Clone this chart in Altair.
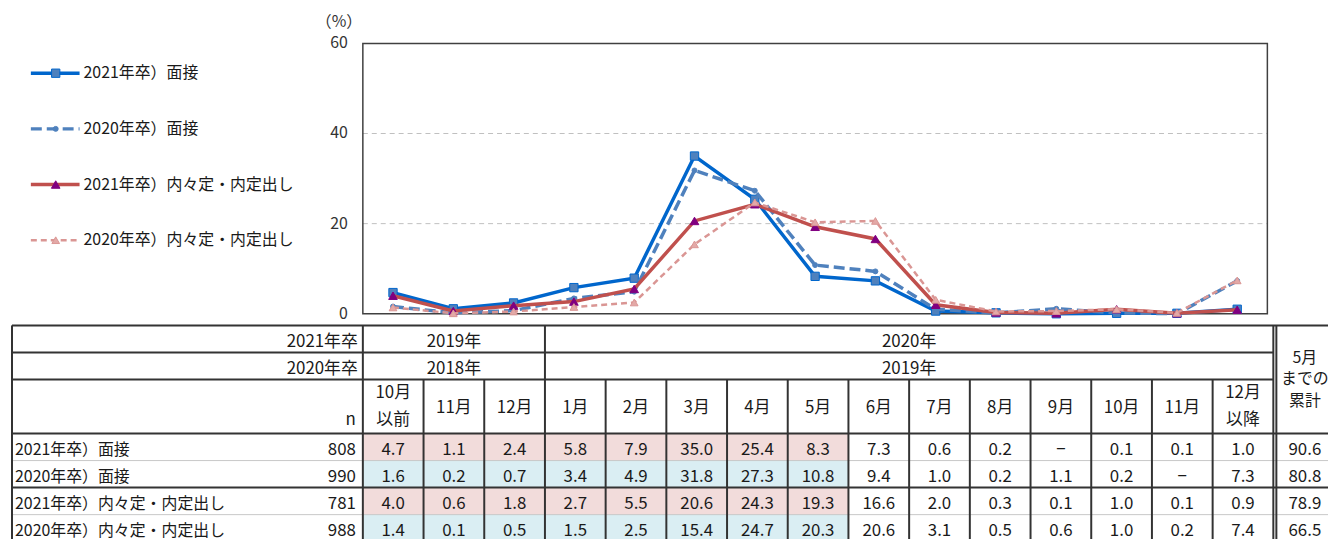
import altair as alt
import pandas as pd

FONT = "Noto Sans CJK JP"
TXT = "#1a1a1a"

# ---------------- data ----------------
series_names = [
    "2021年卒）面接",
    "2020年卒）面接",
    "2021年卒）内々定・内定出し",
    "2020年卒）内々定・内定出し",
]
cohorts = ["2021", "2020", "2021", "2020"]
n_counts = [808, 990, 781, 988]
cumulative_to_may = [90.6, 80.8, 78.9, 66.5]
month_labels = ["10月\n以前", "11月", "12月", "1月", "2月", "3月", "4月", "5月",
                "6月", "7月", "8月", "9月", "10月", "11月", "12月\n以降"]
vals_2021_interview = [4.7, 1.1, 2.4, 5.8, 7.9, 35.0, 25.4, 8.3, 7.3, 0.6, 0.2, None, 0.1, 0.1, 1.0]
vals_2020_interview = [1.6, 0.2, 0.7, 3.4, 4.9, 31.8, 27.3, 10.8, 9.4, 1.0, 0.2, 1.1, 0.2, None, 7.3]
vals_2021_offer = [4.0, 0.6, 1.8, 2.7, 5.5, 20.6, 24.3, 19.3, 16.6, 2.0, 0.3, 0.1, 1.0, 0.1, 0.9]
vals_2020_offer = [1.4, 0.1, 0.5, 1.5, 2.5, 15.4, 24.7, 20.3, 20.6, 3.1, 0.5, 0.6, 1.0, 0.2, 7.4]
all_values = [vals_2021_interview, vals_2020_interview, vals_2021_offer, vals_2020_offer]
y_ticks = [0, 20, 40, 60]
grad_labels = ["2021年卒", "2020年卒"]
year_first = ["2019年", "2018年"]     # 10月以前 .. 12月
year_second = ["2020年", "2019年"]    # 1月 .. 12月以降
n_label = "n"
total_header = "5月\nまでの\n累計"
unit_label = "（%）"
highlight_count = 8  # 10月以前 .. 5月 are shaded
missing_mark = "−"

# ---------------- styles ----------------
styles = [
    dict(color="#0066CC", width=3.5, dash=None, shape="square", fill="#4F81BD", stroke="#0066CC", size=70, sw=1),
    dict(color="#4F81BD", width=3.5, dash=[11, 5], shape="circle", fill="#4F81BD", stroke="#4F81BD", size=25, sw=1),
    dict(color="#C0504D", width=3.5, dash=None, shape="triangle-up", fill="#800080", stroke="#800080", size=75, sw=1),
    dict(color="#DA9694", width=2.5, dash=[6, 4], shape="triangle-up", fill="#E3A9A7", stroke="#DA9694", size=60, sw=1),
]

W, H = 1328, 531
FS = 17      # table number font size
FS_LABEL = 16
TDY = 3      # table text sits slightly below cell centre

X_LINE = alt.Scale(domain=[-0.5, 14.5], range=[357, 1267])
Y_LINE = alt.Scale(domain=[0, 60], range=[306, 34])
Y_LEG = alt.Scale(domain=[0, 3], range=[64, 232])
X_TAB = alt.Scale(domain=[0, 15], range=[357, 1273])
Y_TAB = alt.Scale(domain=[0, 8], range=[317.7, 535.3])


def qx(f, s):
    return alt.X(f, type="quantitative", scale=s, axis=None)


def qy(f, s):
    return alt.Y(f, type="quantitative", scale=s, axis=None)


# ---------------- line chart ----------------
grid_df = pd.DataFrame({"y": [t for t in y_ticks if 0 < t < 60], "x0": -0.5, "x1": 14.5})
grid = alt.Chart(grid_df).mark_rule(color="#BFBFBF", strokeWidth=1, strokeDash=[5, 4]).encode(
    x=qx("x0", X_LINE), x2="x1", y=qy("y", Y_LINE))

frame_df = pd.DataFrame({"x0": [-0.5], "x1": [14.5], "y0": [0], "y1": [60]})
frame = alt.Chart(frame_df).mark_rect(fill="transparent", stroke="#404040", strokeWidth=1.5).encode(
    x=qx("x0", X_LINE), x2="x1", y=qy("y0", Y_LINE), y2="y1")

ytick_df = pd.DataFrame({"y": y_ticks, "x": -0.5, "label": [str(t) for t in y_ticks]})
ylabels = alt.Chart(ytick_df).mark_text(font=FONT, fontSize=16, color="#333333", align="right",
                                         baseline="middle", dx=-15).encode(
    x=qx("x", X_LINE), y=qy("y", Y_LINE), text="label:N")

unit_df = pd.DataFrame({"x": [-0.5], "y": [60], "label": [unit_label]})
unit = alt.Chart(unit_df).mark_text(font=FONT, fontSize=16, color="#333333", align="center",
                                     baseline="middle", dx=-24, dy=-21).encode(
    x=qx("x", X_LINE), y=qy("y", Y_LINE), text="label:N")

series_layers = []
for name, vals, st in zip(series_names, all_values, styles):
    df = pd.DataFrame({
        "idx": list(range(len(vals))),
        "plot": [v if v is not None else 0 for v in vals],
    })
    base = alt.Chart(df).encode(x=qx("idx", X_LINE), y=qy("plot", Y_LINE))
    lkw = dict(color=st["color"], strokeWidth=st["width"], strokeJoin="miter")
    if st["dash"]:
        lkw["strokeDash"] = st["dash"]
    series_layers.append(base.mark_line(**lkw))
    series_layers.append(base.mark_point(shape=st["shape"], filled=True, fill=st["fill"], stroke=st["stroke"],
                                         strokeWidth=st["sw"], size=st["size"], opacity=1))

plot_layer = alt.layer(grid, frame, *series_layers, ylabels, unit)

# ---------------- legend ----------------
legend_parts = []
for i, (name, st) in enumerate(zip(series_names, styles)):
    ldf = pd.DataFrame({"row": [i], "label": [name]})
    b = alt.Chart(ldf).encode(y=qy("row", Y_LEG))
    rkw = dict(color=st["color"], strokeWidth=st["width"])
    if st["dash"]:
        rkw["strokeDash"] = st["dash"]
    legend_parts.append(b.mark_rule(**rkw).encode(x=alt.value(23), x2=alt.value(72)))
    legend_parts.append(b.mark_point(shape=st["shape"], filled=True, fill=st["fill"], stroke=st["stroke"],
                                     strokeWidth=st["sw"], size=st["size"], opacity=1).encode(x=alt.value(48)))
    legend_parts.append(b.mark_text(font=FONT, fontSize=16, color=TXT, align="left", baseline="middle").encode(
        x=alt.value(76), text="label:N"))
legend_layer = alt.layer(*legend_parts)

# ---------------- table ----------------
T_LEFT = -5.78
T_RIGHT = 16.3
T_DBL1, T_DBL2 = 15.0, 15.05
T_TOTAL_C = 15.52
HDR_TOP, ROW1, ROW2, HDR_BOT, DATA_BOT = 0, 1, 2, 4, 8


def ttext(df, field="label", align="center", dx=0, dy=TDY, size=FS, **kw):
    return alt.Chart(df).mark_text(font=FONT, fontSize=size, color=TXT, align=align, baseline="middle",
                                   dx=dx, dy=dy, **kw).encode(
        x=qx("x", X_TAB), y=qy("y", Y_TAB), text=f"{field}:N")


cells = []
for r, (vals, coh) in enumerate(zip(all_values, cohorts)):
    for m, v in enumerate(vals):
        cells.append({
            "x0": m, "x1": m + 1, "y0": HDR_BOT + r, "y1": HDR_BOT + r + 1,
            "x": m + 0.5, "y": HDR_BOT + r + 0.5,
            "label": missing_mark if v is None else f"{v:.1f}",
            "cohort": coh, "hl": m < highlight_count,
        })
cells_df = pd.DataFrame(cells)

fills = alt.Chart(cells_df[cells_df["hl"]]).mark_rect(strokeWidth=0).encode(
    x=qx("x0", X_TAB), x2="x1", y=qy("y0", Y_TAB), y2="y1",
    color=alt.Color("cohort:N", scale=alt.Scale(domain=["2021", "2020"], range=["#F2DCDB", "#DAEEF3"]),
                    legend=None))

cell_text = ttext(cells_df)

row_y = [HDR_BOT + r + 0.5 for r in range(4)]
names_df = pd.DataFrame({"label": series_names, "x": T_LEFT, "y": row_y})
n_df = pd.DataFrame({"label": [str(n) for n in n_counts], "x": 0.0, "y": row_y})
tot_df = pd.DataFrame({"label": [f"{t:.1f}" for t in cumulative_to_may], "x": T_TOTAL_C, "y": row_y})
row_names = ttext(names_df, align="left", dx=3, size=FS_LABEL)
row_n = ttext(n_df, align="right", dx=-7)
row_tot = ttext(tot_df)

hdr_right = pd.DataFrame({"x": [0.0, 0.0], "y": [0.5, 1.5], "label": grad_labels})
hdr_r = ttext(hdr_right, align="right", dx=-5)
n_hdr = ttext(pd.DataFrame({"x": [0.0], "y": [3.5], "label": [n_label]}), align="right", dx=-7, dy=0)

hdr_years = pd.DataFrame({
    "x": [1.5, 1.5, 9.0, 9.0], "y": [0.5, 1.5, 0.5, 1.5],
    "label": [year_first[0], year_first[1], year_second[0], year_second[1]],
})
hdr_y = ttext(hdr_years)

months_df = pd.DataFrame({"x": [m + 0.5 for m in range(15)], "y": 3.0, "label": month_labels})
two_line = months_df["label"].str.contains("\n")
hdr_m1 = ttext(months_df[~two_line], dy=2)
hdr_m2 = ttext(months_df[two_line], dy=-14, lineBreak="\n", lineHeight=28)

hdr_total = pd.DataFrame({"x": [T_TOTAL_C], "y": [2.0], "label": [total_header]})
hdr_t = ttext(hdr_total, dy=-22, lineBreak="\n", lineHeight=22, size=FS_LABEL)

h_dark = pd.DataFrame({
    "y": [HDR_TOP, ROW1, ROW2, HDR_BOT, 6, DATA_BOT],
    "x0": [T_LEFT] * 6,
    "x1": [T_RIGHT, T_DBL1, T_DBL1, T_RIGHT, T_RIGHT, T_RIGHT],
})
h_light = pd.DataFrame({"y": [5, 7], "x0": T_LEFT, "x1": T_RIGHT})
v_x = [T_LEFT, 0, 3, T_DBL1, T_DBL2] + [m for m in range(1, 15) if m != 3]
v_y0 = [HDR_TOP] * 5 + [ROW2] * 13
v_dark = pd.DataFrame({"x": v_x, "y0": v_y0, "y1": DATA_BOT})

rule_light = alt.Chart(h_light).mark_rule(color="#C8C8C8", strokeWidth=1).encode(
    x=qx("x0", X_TAB), x2="x1", y=qy("y", Y_TAB))
rule_h = alt.Chart(h_dark).mark_rule(color="#333333", strokeWidth=2).encode(
    x=qx("x0", X_TAB), x2="x1", y=qy("y", Y_TAB))
rule_v = alt.Chart(v_dark).mark_rule(color="#333333", strokeWidth=2).encode(
    x=qx("x", X_TAB), y=qy("y0", Y_TAB), y2="y1")

table_layer = alt.layer(fills, rule_light, rule_h, rule_v, cell_text, row_names, row_n, row_tot,
                        hdr_r, n_hdr, hdr_y, hdr_m1, hdr_m2, hdr_t)

chart = alt.layer(plot_layer, legend_layer, table_layer).resolve_scale(
    x="independent", y="independent"
).properties(
    width=W, height=H, padding=0, autosize=alt.AutoSizeParams(type="none")
).configure_view(stroke=None)

chart.save("out.html", embed_options={"renderer": "svg", "actions": False})
